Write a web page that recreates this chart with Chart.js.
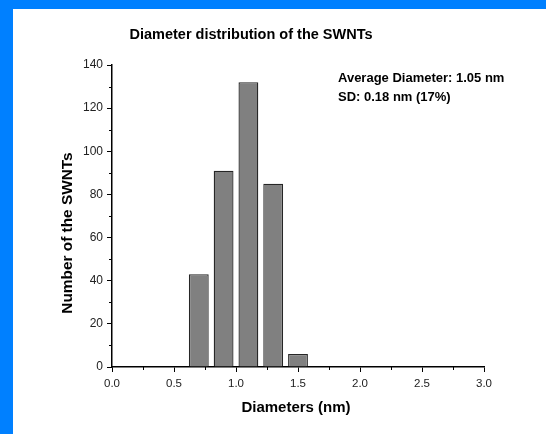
<!DOCTYPE html>
<html>
<head>
<meta charset="utf-8">
<script src="https://cdn.jsdelivr.net/npm/chart.js@4"></script>
<style>
  html, body { margin: 0; padding: 0; background: #0080ff; width: 546px; height: 434px; overflow: hidden; }
  #c { position: absolute; left: 13px; top: 9px; background: #ffffff; }
</style>
</head>
<body>
<canvas id="c" width="533" height="425"></canvas>
<script>
// ---- data ----
const binCenters = [0.7, 0.9, 1.1, 1.3, 1.5];
const counts = [43, 91, 132, 85, 6];
const chartTitle = 'Diameter distribution of the SWNTs';
const xTitle = 'Diameters (nm)';
const yTitle = 'Number of the SWNTs';
const noteLines = ['Average Diameter: 1.05 nm', 'SD: 0.18 nm (17%)'];
const xRange = [0, 3.0];
const yRange = [0, 140];
const xMajorStep = 0.5, xMinorStep = 0.25;
const yMajorStep = 20, yMinorStep = 10;

const FONT = 'Arial, "Liberation Sans", sans-serif';

const points = binCenters.map((x, i) => ({ x: x, y: counts[i] }));

const extras = {
  id: 'extras',
  afterDraw(chart) {
    const ctx = chart.ctx;
    const xs = chart.scales.x, ys = chart.scales.y;
    ctx.save();
    // minor ticks
    ctx.strokeStyle = '#000';
    ctx.lineWidth = 1;
    ctx.beginPath();
    for (let v = yRange[0]; v <= yRange[1] + 1e-9; v += yMinorStep) {
      if (Math.abs(v % yMajorStep) < 1e-9) continue;
      const py = Math.round(ys.getPixelForValue(v)) + 0.5;
      ctx.moveTo(chart.chartArea.left - 3, py);
      ctx.lineTo(chart.chartArea.left, py);
    }
    for (let v = xRange[0]; v <= xRange[1] + 1e-9; v += xMinorStep) {
      const r = v / xMajorStep;
      if (Math.abs(r - Math.round(r)) < 1e-9) continue;
      const px = Math.round(xs.getPixelForValue(v)) + 0.5;
      ctx.moveTo(px, chart.chartArea.bottom);
      ctx.lineTo(px, chart.chartArea.bottom + 3);
    }
    ctx.stroke();

    ctx.fillStyle = '#000';
    ctx.textBaseline = 'middle';
    // chart title
    ctx.font = 'bold 14.5px ' + FONT;
    ctx.textAlign = 'center';
    ctx.fillText(chartTitle, 238, 26);
    // x title
    ctx.font = 'bold 15px ' + FONT;
    ctx.fillText(xTitle, 283, 399);
    // y title
    ctx.save();
    ctx.translate(55, 224);
    ctx.rotate(-Math.PI / 2);
    ctx.font = 'bold 15.4px ' + FONT;
    ctx.fillText(yTitle, 0, 0);
    ctx.restore();
    // note
    ctx.font = 'bold 13px ' + FONT;
    ctx.textAlign = 'left';
    noteLines.forEach((t, i) => ctx.fillText(t, 325, 69 + i * 19));
    ctx.restore();
  }
};

new Chart(document.getElementById('c'), {
  type: 'bar',
  data: {
    datasets: [{
      data: points,
      backgroundColor: '#808080',
      borderColor: '#262626',
      borderWidth: 1.3,
      categoryPercentage: 1.0,
      barPercentage: 0.8
    }]
  },
  options: {
    responsive: false,
    animation: false,
    devicePixelRatio: 1,
    layout: { padding: { left: 0, right: 62, top: 56, bottom: 0 } },
    plugins: { legend: { display: false }, tooltip: { enabled: false }, title: { display: false } },
    scales: {
      x: {
        type: 'linear',
        min: xRange[0], max: xRange[1],
        offset: false,
        grid: { display: true, drawOnChartArea: false, drawTicks: true, tickLength: 5, tickColor: '#000', offset: false },
        border: { display: true, color: '#000', width: 1.5 },
        ticks: {
          stepSize: xMajorStep,
          padding: 5,
          color: '#222',
          font: { family: FONT, size: 11.5 },
          maxRotation: 0,
          callback: v => Number(v).toFixed(1)
        },
        afterFit: s => { s.height = 67; }
      },
      y: {
        min: yRange[0], max: yRange[1],
        grid: { display: true, drawOnChartArea: false, drawTicks: true, tickLength: 5, tickColor: '#000' },
        border: { display: true, color: '#000', width: 1.5 },
        ticks: {
          stepSize: yMajorStep,
          padding: 4,
          color: '#222',
          font: { family: FONT, size: 12 }
        },
        afterFit: s => { s.width = 99; }
      }
    }
  },
  plugins: [extras]
});
</script>
</body>
</html>
